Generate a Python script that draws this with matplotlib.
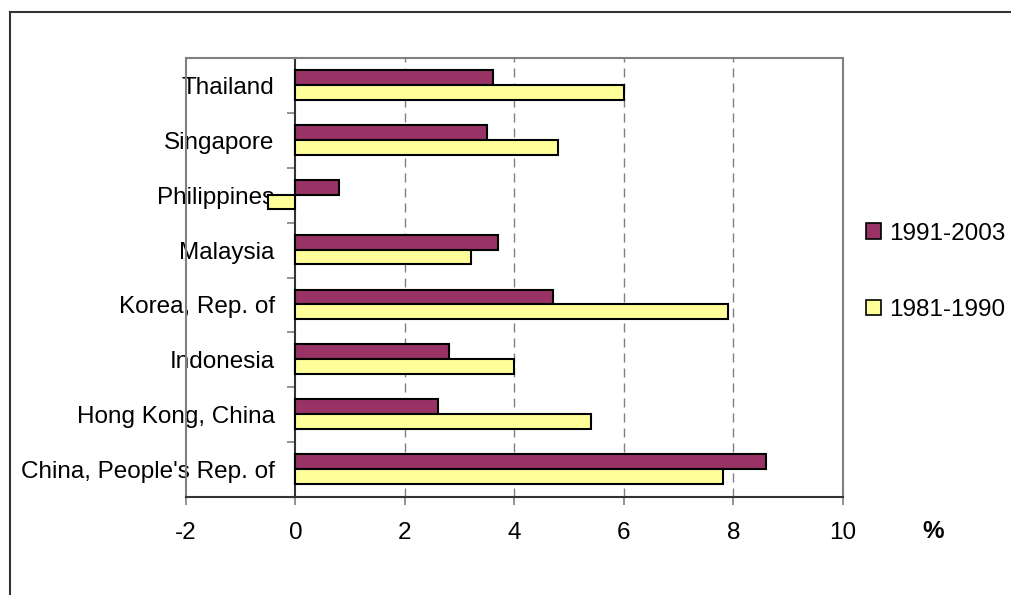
import matplotlib
matplotlib.use("Agg")
import matplotlib.pyplot as plt
import numpy as np
from matplotlib.lines import Line2D
from matplotlib.patches import Patch

plt.rcParams['font.family'] = ['Liberation Sans', 'DejaVu Sans']

categories = ["China, People's Rep. of", "Hong Kong, China", "Indonesia",
              "Korea, Rep. of", "Malaysia", "Philippines", "Singapore", "Thailand"]
series_1991_2003 = [8.6, 2.6, 2.8, 4.7, 3.7, 0.8, 3.5, 3.6]
series_1981_1990 = [7.8, 5.4, 4.0, 7.9, 3.2, -0.5, 4.8, 6.0]
x_ticks = [-2, 0, 2, 4, 6, 8, 10]
labels = ["1991-2003", "1981-1990"]
colors = ["#993366", "#FFFF99"]

W, H = 1012, 595
fig = plt.figure(figsize=(W / 100, H / 100), dpi=100)
ax = fig.add_axes([186 / W, 1 - 497 / H, (843 - 186) / W, (497 - 58) / H])

fs = 17.5
y = np.arange(len(categories))
h = 0.27
ax.barh(y + h / 2 + 0.01, series_1991_2003, height=h, color=colors[0],
        edgecolor='black', linewidth=1.5, zorder=3)
ax.barh(y - h / 2 + 0.01, series_1981_1990, height=h, color=colors[1],
        edgecolor='black', linewidth=1.5, zorder=3)

ax.set_xlim(-2, 10)
ax.set_ylim(-0.5, len(categories) - 0.5)
ax.set_xticks(x_ticks)
ax.set_xticklabels([str(t) for t in x_ticks], fontsize=fs)
ax.tick_params(axis='x', length=6, color='#808080', width=1.2, pad=12)
ax.set_yticks([])
ax.tick_params(axis='y', left=False)

for t in x_ticks:
    if t not in (-2, 0, 10):
        ax.axvline(t, color='#808080', lw=1.0, linestyle=(0, (6.5, 4.3)), zorder=1)

for s in ['top', 'right', 'left']:
    ax.spines[s].set_color('#808080')
    ax.spines[s].set_linewidth(1.5)
ax.spines['bottom'].set_color('#333333')
ax.spines['bottom'].set_linewidth(1.5)

sec = ax.secondary_yaxis(1 / 6)
sec.set_yticks(y)
sec.set_yticklabels(categories, fontsize=fs)
sec.set_yticks(np.arange(len(categories) + 1) - 0.5, minor=True)
sec.tick_params(axis='y', which='major', length=0, pad=15)
sec.tick_params(axis='y', which='minor', length=6, color='#808080', width=1.2)
sec.spines['left'].set_color('#333333')
sec.spines['left'].set_linewidth(1.5)

handles = [Patch(facecolor=colors[0], edgecolor='black', linewidth=1.2),
           Patch(facecolor=colors[1], edgecolor='black', linewidth=1.2)]
fig.legend(handles, labels, loc='center left', bbox_to_anchor=(866 / W, 1 - 272 / H),
           frameon=False, fontsize=fs, handlelength=0.6, handleheight=0.6,
           handletextpad=0.35, labelspacing=2.25, borderaxespad=0, borderpad=0)

fig.text(933 / W, 1 - 531 / H, "%", fontsize=fs, fontweight='bold', ha='center', va='center')

fig.add_artist(Line2D([10 / W, 10 / W], [0, 1 - 12 / H], color='#333333', lw=1.5))
fig.add_artist(Line2D([10 / W, 1], [1 - 12 / H, 1 - 12 / H], color='#333333', lw=1.5))

fig.savefig("out.png", dpi=100)
